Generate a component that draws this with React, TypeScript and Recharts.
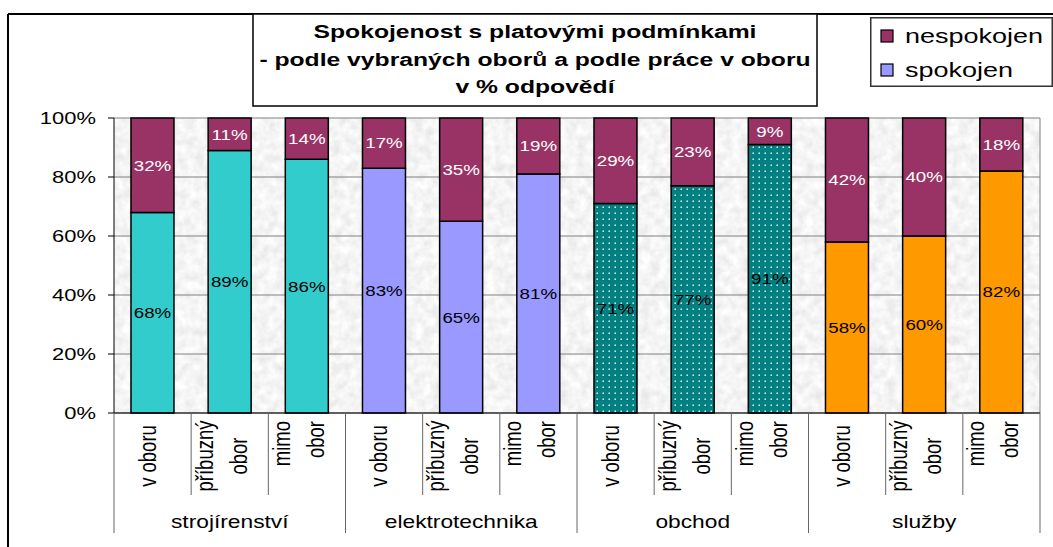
import { Bar, BarChart, CartesianGrid, Cell, LabelList, Legend, XAxis, YAxis } from "recharts";

const groups = ["strojírenství", "elektrotechnika", "obchod", "služby"];
const subLabels = [["v oboru"], ["příbuzný", "obor"], ["mimo", "obor"]];
const spokojen = [68, 89, 86, 83, 65, 81, 71, 77, 91, 58, 60, 82];
const nespokojen = [32, 11, 14, 17, 35, 19, 29, 23, 9, 42, 40, 18];
const yTicks = [0, 20, 40, 60, 80, 100];
const groupFills = ["#33CCCC", "#9999FF", "url(#dots)", "#FF9900"];
const legendOrder = ["nespokojen", "spokojen"];
const titleLines = [
    "Spokojenost s platovými podmínkami",
    "- podle vybraných oborů a podle práce v oboru",
    "v % odpovědí",
];

const data = spokojen.map((v, i) => ({
    key: i,
    group: groups[Math.floor(i / 3)],
    spokojen: v,
    nespokojen: nespokojen[i],
}));

const W = 1053;
const H = 547;
const PLOT_LEFT = 114;
const PLOT_RIGHT = 1040;
const PLOT_TOP = 118;
const PLOT_BOTTOM = 413;
const BAND = (PLOT_RIGHT - PLOT_LEFT) / data.length;
const FONT = "'Liberation Sans', Arial, sans-serif";

// the original picture is stretched sideways, so text gets a scaleX
function SText({ x, y, sx = 1.3, rotate = 0, children, ...rest }: any) {
    const t = `translate(${x},${y}) scale(${sx},1)` + (rotate ? ` rotate(${rotate})` : "");
    return (
        <text transform={t} fontFamily={FONT} {...rest}>
            {children}
        </text>
    );
}

function YTick({ x, y, payload }: any) {
    return (
        <SText x={x} y={y} sx={1.33} fontSize={16.5} textAnchor="end" dy="0.36em" fill="#000">
            {payload.value}%
        </SText>
    );
}

function XTick({ x, index }: any) {
    const pos = index % 3;
    const lines = subLabels[pos];
    const left = x - BAND / 2;
    return (
        <g>
            <line x1={left} x2={left} y1={PLOT_BOTTOM} y2={pos === 0 ? 533 : 495} stroke="#666" />
            {index === data.length - 1 && (
                <line x1={x + BAND / 2} x2={x + BAND / 2} y1={PLOT_BOTTOM} y2={533} stroke="#666" />
            )}
            {lines.map((t, j) => {
                const bx = lines.length === 1 ? x + 3 : x + (j === 0 ? -17 : 17);
                return (
                    <SText
                        key={j}
                        x={bx}
                        y={pos === 2 ? 421 : 456}
                        rotate={-90}
                        fontSize={18.5}
                        textAnchor={pos === 2 ? "end" : "middle"}
                        fill="#000"
                    >
                        {t}
                    </SText>
                );
            })}
            {pos === 1 && (
                <SText x={x} y={528} fontSize={17.5} textAnchor="middle" fill="#000">
                    {groups[Math.floor(index / 3)]}
                </SText>
            )}
        </g>
    );
}

const makeLabel = (color: string) => (props: any) => {
    const { x, y, width, height, value } = props;
    return (
        <SText x={x + width / 2} y={y + height / 2} sx={1.25} fontSize={15} textAnchor="middle" dy="0.36em" fill={color}>
            {value}%
        </SText>
    );
};

function LegendBox({ payload }: any) {
    const items = legendOrder
        .map((name) => (payload ?? []).find((p: any) => p.value === name))
        .filter(Boolean);
    return (
        <svg width={183} height={70} style={{ display: "block" }}>
            <rect x={0.75} y={0.75} width={181.5} height={68.5} fill="#fff" stroke="#333" strokeWidth={1.5} />
            {items.map((it: any, i: number) => (
                <g key={it.value}>
                    <rect x={11} y={13 + i * 34} width={12} height={12} fill={it.color} stroke="#000" strokeWidth={1.2} />
                    <SText x={35} y={26 + i * 34} sx={1.35} fontSize={20} fill="#000">
                        {it.value}
                    </SText>
                </g>
            ))}
        </svg>
    );
}

export default function App() {
    return (
        <div style={{ position: "absolute", left: 0, top: 0, width: W, height: H, background: "#fff" }}>
            <svg width={W} height={H} style={{ position: "absolute", left: 0, top: 0 }}>
                <line x1={8} y1={14} x2={W} y2={14} stroke="#000" strokeWidth={2} />
                <line x1={8} y1={14} x2={8} y2={H} stroke="#000" strokeWidth={2} />
                <rect x={253} y={14} width={564} height={92} fill="#fff" stroke="#000" strokeWidth={1.5} />
                {titleLines.map((t, i) => (
                    <SText key={i} x={535} y={38 + i * 27.5} fontSize={19} fontWeight="bold" textAnchor="middle" fill="#000">
                        {t}
                    </SText>
                ))}
            </svg>
            <div style={{ position: "absolute", left: 0, top: 0 }}>
                <BarChart
                    width={W}
                    height={H}
                    data={data}
                    margin={{ top: PLOT_TOP, right: W - PLOT_RIGHT, left: 0, bottom: 0 }}
                    barCategoryGap="22%"
                >
                    <defs>
                        <filter id="noise" x="0" y="0" width="100%" height="100%">
                            <feTurbulence type="fractalNoise" baseFrequency="0.11" numOctaves={3} seed={4} />
                            <feColorMatrix
                                type="matrix"
                                values="0.3 0 0 0 0.76  0.3 0 0 0 0.76  0.3 0 0 0 0.76  0 0 0 0 1"
                            />
                        </filter>
                        <pattern id="marble" patternUnits="userSpaceOnUse" x={PLOT_LEFT} y={PLOT_TOP} width={926} height={295}>
                            <rect width={926} height={295} filter="url(#noise)" />
                        </pattern>
                        <pattern id="dots" patternUnits="userSpaceOnUse" width={6} height={6}>
                            <rect width={6} height={6} fill="#008080" />
                            <rect x={2.5} y={2.5} width={1.4} height={1.4} fill="#fff" />
                        </pattern>
                    </defs>
                    <CartesianGrid fill="url(#marble)" stroke="#808080" vertical={true} verticalPoints={[PLOT_RIGHT]} />
                    <XAxis
                        dataKey="key"
                        interval={0}
                        height={H - PLOT_BOTTOM}
                        tickSize={0}
                        tickMargin={0}
                        tickLine={false}
                        axisLine={{ stroke: "#000" }}
                        tick={(p: any) => <XTick {...p} />}
                    />
                    <YAxis
                        domain={[0, 100]}
                        ticks={yTicks}
                        interval={0}
                        width={PLOT_LEFT}
                        tickSize={6}
                        tickMargin={12}
                        axisLine={{ stroke: "#000" }}
                        tickLine={{ stroke: "#000" }}
                        tick={(p: any) => <YTick {...p} />}
                    />
                    <Legend
                        layout="horizontal"
                        verticalAlign="middle"
                        align="center"
                        wrapperStyle={{ left: 870, top: 17, width: 183, height: 70 }}
                        content={(p: any) => <LegendBox {...p} />}
                    />
                    <Bar dataKey="spokojen" name="spokojen" stackId="a" fill="#9999FF" stroke="#000" strokeWidth={1.5} isAnimationActive={false}>
                        {data.map((d, i) => (
                            <Cell key={d.key} fill={groupFills[Math.floor(i / 3)]} />
                        ))}
                        <LabelList dataKey="spokojen" content={makeLabel("#000")} />
                    </Bar>
                    <Bar dataKey="nespokojen" name="nespokojen" stackId="a" fill="#993366" stroke="#000" strokeWidth={1.5} isAnimationActive={false}>
                        <LabelList dataKey="nespokojen" content={makeLabel("#fff")} />
                    </Bar>
                </BarChart>
            </div>
        </div>
    );
}
